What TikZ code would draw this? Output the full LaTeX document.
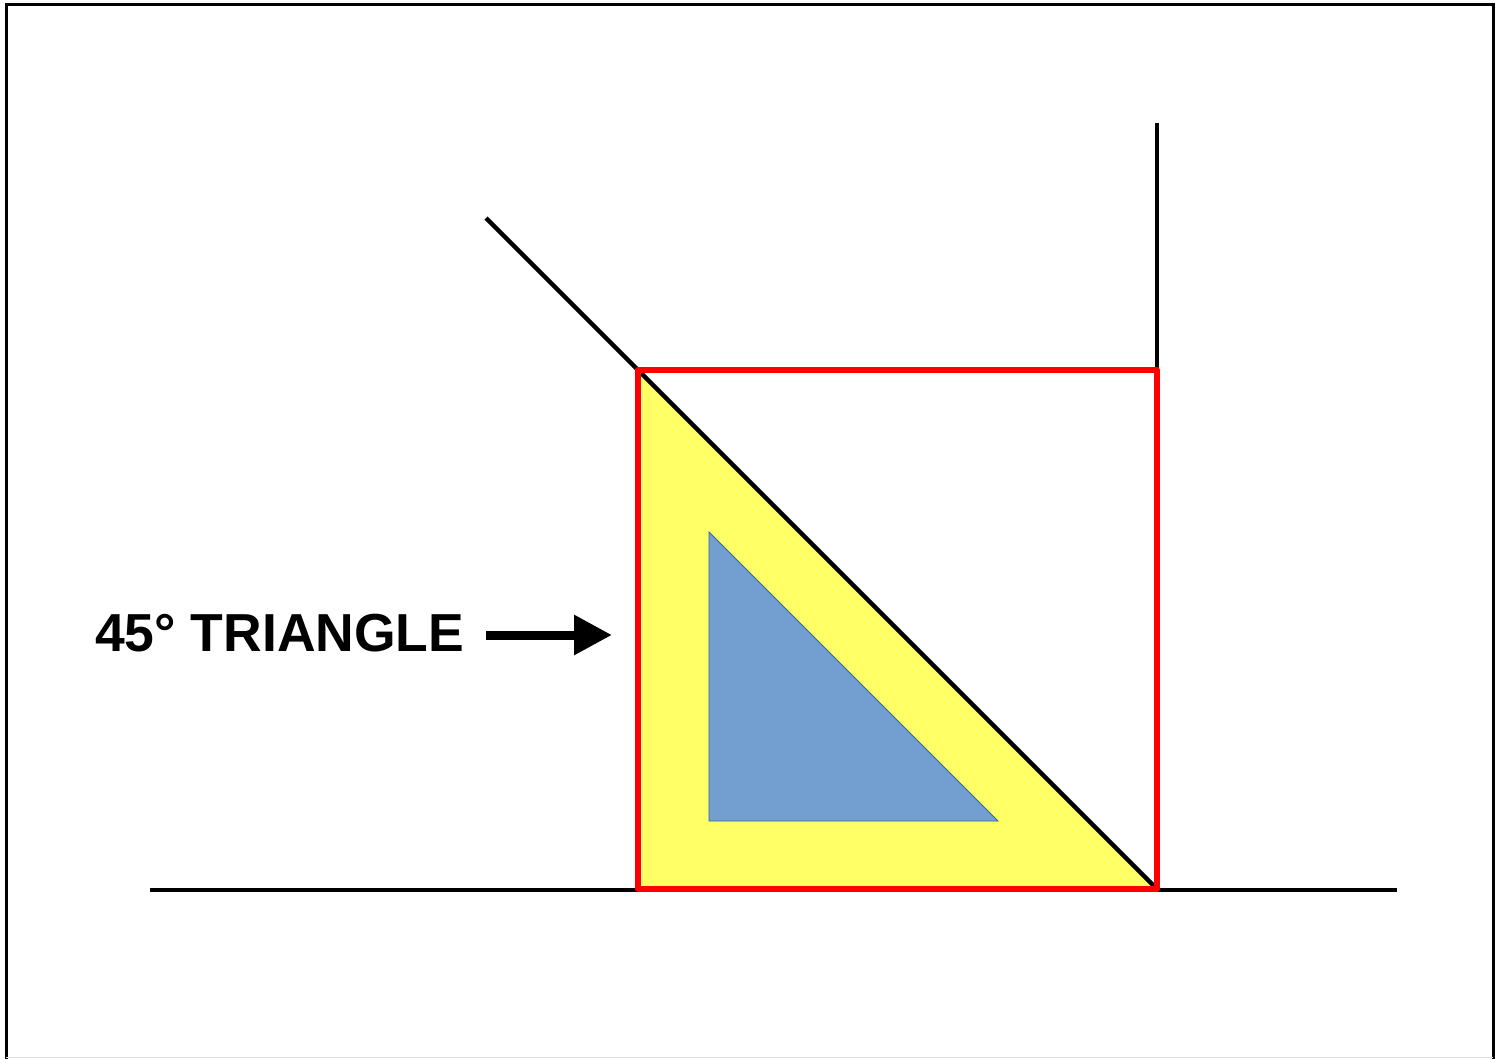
\documentclass[tikz,border=0pt]{standalone}
\usepackage{fontspec}
\setmainfont{Liberation Sans}
\usetikzlibrary{arrows.meta}
\definecolor{tyellow}{HTML}{FFFF66}
\definecolor{tblue}{HTML}{729FCF}
\definecolor{tblueline}{HTML}{3465A4}
\tikzset{
  blackline/.style={draw=black,line width=4.5pt},
  redbox/.style={draw=red,line width=6pt,line join=round},
  framestyle/.style={draw=black,line width=3pt},
  labeltext/.style={font=\bfseries\fontsize{53.5}{60}\selectfont,inner sep=0pt,anchor=base west},
  pointer/.style={draw=black,line width=9pt,-{Triangle[length=38pt,width=38pt]}}
}
\begin{document}
\begin{tikzpicture}[x=1pt,y=-1pt]
\useasboundingbox (0,0) rectangle (1504,1059);
% frame
\draw[framestyle] (6,1059) -- (6,5) -- (1493,5) -- (1493,1059);
\draw[gray!25,line width=1pt] (6,1057.5) -- (1493,1057.5);
% coordinates
\coordinate (tl) at (638,370);
\coordinate (bl) at (638,889);
\coordinate (br) at (1157,889);
\coordinate (tr) at (1157,370);
\coordinate (diagstart) at (486,218);
\coordinate (vtop) at (1157,123);
\coordinate (hleft) at (150,890);
\coordinate (hright) at (1397,890);
\coordinate (ia) at (709,532);
\coordinate (ib) at (709,821);
\coordinate (ic) at (998,821);
% yellow triangle
\fill[tyellow] (tl) -- (bl) -- (br) -- cycle;
% inner blue triangle
\filldraw[fill=tblue,draw=tblueline,line width=0.8pt] (ia) -- (ib) -- (ic) -- cycle;
% lines
\draw[blackline] (hleft) -- (hright);
\draw[blackline] (vtop) -- (tr);
\draw[blackline] (diagstart) -- (br);
% red square
\draw[redbox] (tl) rectangle (br);
% label and arrow
\node[labeltext] (lbl) at (95,651) {45° TRIANGLE};
\coordinate (arrs) at (486,635);
\coordinate (arre) at (612,635);
\draw[pointer] (arrs) -- (arre);
\end{tikzpicture}
\end{document}
